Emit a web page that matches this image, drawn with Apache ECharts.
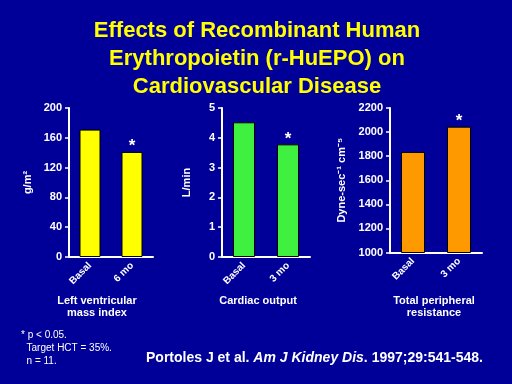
<!DOCTYPE html>
<html><head><meta charset="utf-8">
<script src="https://cdn.jsdelivr.net/npm/echarts@6/dist/echarts.min.js"></script>
<style>html,body{margin:0;padding:0;background:#000099;}#c{width:512px;height:384px;}</style>
</head><body><div id="c"></div>
<script>
const categoriesLV = ['Basal', '6 mo'];
const categoriesCO = ['Basal', '3 mo'];
const categoriesTPR = ['Basal', '3 mo'];
const lvmiValues = [171, 141];
const coValues = [4.52, 3.78];
const tprValues = [1835, 2045];
const sigMarks = ['', '*'];
const lvTicks = {min: 0, max: 200, interval: 40};
const coTicks = {min: 0, max: 5, interval: 1};
const tprTicks = {min: 1000, max: 2200, interval: 200};

const FONT = '"Liberation Sans", Arial, sans-serif';
const chart = echarts.init(document.getElementById('c'), null, {renderer: 'canvas'});

function xAx(i, cats) {
  return {
    type: 'category', gridIndex: i, data: cats,
    axisLine: {lineStyle: {color: '#fff', width: 2}},
    axisTick: {show: false},
    axisLabel: {rotate: 45, color: '#fff', fontWeight: 'bold', fontSize: 10, fontFamily: FONT, margin: 7}
  };
}
function yAx(i, t, name, gap) {
  return {
    type: 'value', gridIndex: i, min: t.min, max: t.max, interval: t.interval,
    name: name, nameLocation: 'middle', nameGap: gap, nameRotate: 90,
    nameTextStyle: {color: '#fff', fontWeight: 'bold', fontSize: 11, fontFamily: FONT},
    axisLine: {show: true, lineStyle: {color: '#fff', width: 2}},
    axisTick: {show: true, length: 4, lineStyle: {color: '#fff', width: 1.5}},
    axisLabel: {color: '#fff', fontWeight: 'bold', fontSize: 11, fontFamily: FONT, margin: 7,
      formatter: v => String(v)},
    splitLine: {show: false}
  };
}
function barS(i, vals, color, width) {
  return {
    type: 'bar', xAxisIndex: i, yAxisIndex: i, data: vals, barWidth: width,
    itemStyle: {color: color, borderColor: '#000', borderWidth: 1},
    label: {show: true, position: 'top', distance: -3, color: '#fff', fontSize: 17, fontWeight: 'bold', fontFamily: FONT,
      formatter: p => sigMarks[p.dataIndex]},
    animation: false
  };
}

chart.setOption({
  backgroundColor: '#000099',
  animation: false,
  title: [
    {text: 'Effects of Recombinant Human\nErythropoietin (r-HuEPO) on\nCardiovascular Disease',
     left: 257, top: 17, textAlign: 'center', padding: 0,
     textStyle: {color: '#ffff00', fontSize: 22, fontWeight: 'bold', fontFamily: FONT, lineHeight: 28}},
    {text: 'Left ventricular\nmass index', left: 97, top: 295, textAlign: 'center', padding: 0,
     textStyle: {color: '#fff', fontSize: 11, fontWeight: 'bold', fontFamily: FONT, lineHeight: 12}},
    {text: 'Cardiac output', left: 258, top: 295, textAlign: 'center', padding: 0,
     textStyle: {color: '#fff', fontSize: 11, fontWeight: 'bold', fontFamily: FONT, lineHeight: 12}},
    {text: 'Total peripheral\nresistance', left: 434, top: 295, textAlign: 'center', padding: 0,
     textStyle: {color: '#fff', fontSize: 11, fontWeight: 'bold', fontFamily: FONT, lineHeight: 12}},
    {text: '* p < 0.05.\n  Target HCT = 35%.\n  n = 11.', left: 21, top: 329, padding: 0,
     textStyle: {color: '#fff', fontSize: 10, fontWeight: 'normal', fontFamily: FONT, lineHeight: 13}},
    {text: '{b|Portoles J et al. }{i|Am J Kidney Dis}{b|. 1997;29:541-548.}', left: 146, top: 351, padding: 0,
     textStyle: {color: '#fff', fontSize: 14, fontFamily: FONT,
       rich: {b: {color: '#fff', fontSize: 14, fontWeight: 'bold', fontFamily: FONT},
              i: {color: '#fff', fontSize: 14, fontWeight: 'bold', fontStyle: 'italic', fontFamily: FONT}}}}
  ],
  grid: [
    {left: 69, top: 108, width: 84, height: 149},
    {left: 222, top: 108, width: 88, height: 149},
    {left: 390, top: 108, width: 92, height: 144.5}
  ],
  xAxis: [xAx(0, categoriesLV), xAx(1, categoriesCO), xAx(2, categoriesTPR)],
  yAxis: [yAx(0, lvTicks, 'g/m²', 36), yAx(1, coTicks, 'L/min', 30), yAx(2, tprTicks, 'Dyne-sec⁻¹ cm⁻⁵', 43)],
  series: [barS(0, lvmiValues, '#ffff00', 21), barS(1, coValues, '#40f040', 22), barS(2, tprValues, '#ff9900', 24)]
});
</script></body></html>
